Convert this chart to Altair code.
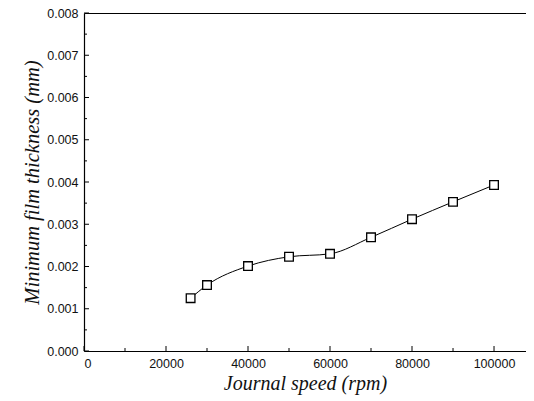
import altair as alt
import pandas as pd

speed = [26000, 30000, 40000, 50000, 60000, 70000, 80000, 90000, 100000]
thickness = [0.00125, 0.00156, 0.00201, 0.00223, 0.00230, 0.00269, 0.00312, 0.00353, 0.00393]

x_major = [0, 20000, 40000, 60000, 80000, 100000]
x_minor = [10000, 30000, 50000, 70000, 90000]
y_major = [0.000, 0.001, 0.002, 0.003, 0.004, 0.005, 0.006, 0.007, 0.008]
y_minor = [0.0005, 0.0015, 0.0025, 0.0035, 0.0045, 0.0055, 0.0065, 0.0075]

W, H = 442, 338

df = pd.DataFrame({"speed": speed, "thickness": thickness})

xs = alt.Scale(domain=[0, 107800], nice=False)
ys = alt.Scale(domain=[0, 0.008], nice=False)

common = dict(grid=False, ticks=False, domainColor="black", domainWidth=1.2,
              labelFont="Liberation Sans", labelFontSize=12.5, labelColor="#111",
              titleFont="Liberation Serif", titleFontStyle="italic", titleFontWeight="normal",
              titleColor="#111")

x_axis = alt.Axis(values=x_major, format="d", title="Journal speed (rpm)",
                  labelPadding=6, titleFontSize=20, titlePadding=4, **common)
y_axis = alt.Axis(values=y_major, format=".3f", title="Minimum film thickness (mm)",
                  labelPadding=6, titleFontSize=20.5, titlePadding=4, **common)
top_axis = alt.Axis(orient="top", labels=False, title=None, **common)

line = alt.Chart(df).mark_line(color="black", strokeWidth=1, interpolate="monotone").encode(
    x=alt.X("speed:Q", scale=xs, axis=x_axis),
    y=alt.Y("thickness:Q", scale=ys, axis=y_axis),
)
points = alt.Chart(df).mark_point(shape="square", size=75, filled=True, fill="white",
                                  stroke="black", strokeWidth=1.3, opacity=1).encode(
    x=alt.X("speed:Q", scale=xs, axis=top_axis),
    y=alt.Y("thickness:Q", scale=ys, axis=None),
)

xmaj = alt.Chart(pd.DataFrame({"v": x_major})).mark_rule(color="black").encode(
    x=alt.X("v:Q", scale=xs, axis=None), y=alt.value(H), y2=alt.value(H - 5))
xmin = alt.Chart(pd.DataFrame({"v": x_minor})).mark_rule(color="black").encode(
    x=alt.X("v:Q", scale=xs, axis=None), y=alt.value(H), y2=alt.value(H - 3))
ymaj = alt.Chart(pd.DataFrame({"v": y_major})).mark_rule(color="black").encode(
    y=alt.Y("v:Q", scale=ys, axis=None), x=alt.value(0), x2=alt.value(5))
ymin = alt.Chart(pd.DataFrame({"v": y_minor})).mark_rule(color="black").encode(
    y=alt.Y("v:Q", scale=ys, axis=None), x=alt.value(0), x2=alt.value(3))

chart = alt.layer(line, points, xmaj, xmin, ymaj, ymin).resolve_axis(
    x="independent", y="independent"
).properties(
    width=W, height=H,
    autosize=alt.AutoSizeParams(type="none"),
    padding={"left": 76, "top": 5, "right": 0, "bottom": 45},
).configure_view(stroke=None).configure(background="white")

chart.save("out.html", embed_options={"renderer": "svg", "actions": False})
